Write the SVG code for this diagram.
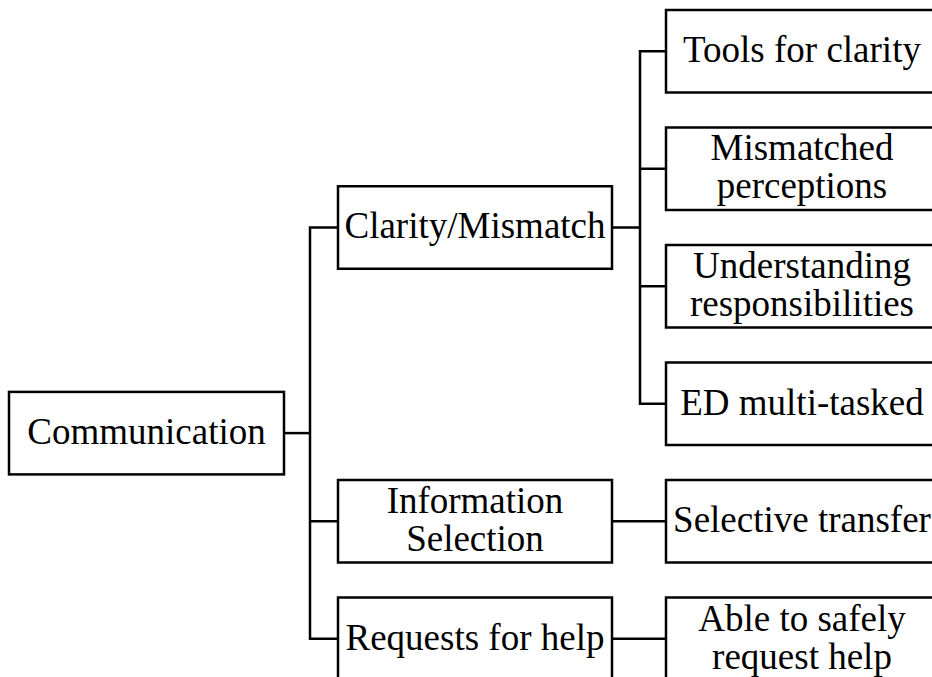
<svg xmlns="http://www.w3.org/2000/svg" width="932" height="677" viewBox="0 0 932 677">
<style>
.box{fill:#fff;stroke:#000;stroke-width:2.5}
.lbl{font-size:37px;fill:#000;text-anchor:middle}
.con{fill:none;stroke:#000;stroke-width:2.5;stroke-linejoin:miter;stroke-linecap:butt}
</style>
<rect width="932" height="677" fill="#fff"/>
<g id="connectors">
<path class="con" d="M284 433.1H310"/>
<path class="con" d="M338 227.5H310V638.75H338"/>
<path class="con" d="M310 521.25H338"/>
<path class="con" d="M612 227.5H640"/>
<path class="con" d="M666 51.25H640V403.75H666"/>
<path class="con" d="M640 168.75H666"/>
<path class="con" d="M640 286.25H666"/>
<path class="con" d="M612 521.25H666"/>
<path class="con" d="M612 638.75H666"/>
</g>
<g font-family="'Liberation Serif', 'Times New Roman', Tinos, 'DejaVu Serif', serif">
<g id="communication">
<rect class="box" x="9" y="391.9" width="275" height="82.5"/>
<text class="lbl" x="146.5" y="444">Communication</text>
</g>
<g id="clarity-mismatch">
<rect class="box" x="338" y="186.25" width="274" height="82.5"/>
<text class="lbl" x="475" y="238.3">Clarity/Mismatch</text>
</g>
<g id="information-selection">
<rect class="box" x="338" y="480" width="274" height="82.5"/>
<text class="lbl" x="475" y="513">Information</text>
<text class="lbl" x="475" y="551.2">Selection</text>
</g>
<g id="requests-for-help">
<rect class="box" x="338" y="597.5" width="274" height="82.5"/>
<text class="lbl" x="475" y="649.5">Requests for help</text>
</g>
<g id="tools-for-clarity">
<rect class="box" x="666" y="10" width="274" height="82.5"/>
<text class="lbl" x="802" y="62">Tools for clarity</text>
</g>
<g id="mismatched-perceptions">
<rect class="box" x="666" y="127.5" width="274" height="82.5"/>
<text class="lbl" x="802" y="159.5">Mismatched</text>
<text class="lbl" x="802" y="197.7">perceptions</text>
</g>
<g id="understanding-responsibilities">
<rect class="box" x="666" y="245" width="274" height="82.5"/>
<text class="lbl" x="802" y="277.8">Understanding</text>
<text class="lbl" x="802" y="316">responsibilities</text>
</g>
<g id="ed-multi-tasked">
<rect class="box" x="666" y="362.5" width="274" height="82.5"/>
<text class="lbl" x="802" y="414.5">ED multi-tasked</text>
</g>
<g id="selective-transfer">
<rect class="box" x="666" y="480" width="274" height="82.5"/>
<text class="lbl" x="802" y="532">Selective transfer</text>
</g>
<g id="able-to-safely-request-help">
<rect class="box" x="666" y="597.5" width="274" height="82.5"/>
<text class="lbl" x="802" y="631">Able to safely</text>
<text class="lbl" x="802" y="669.2">request help</text>
</g>
</g>
</svg>
